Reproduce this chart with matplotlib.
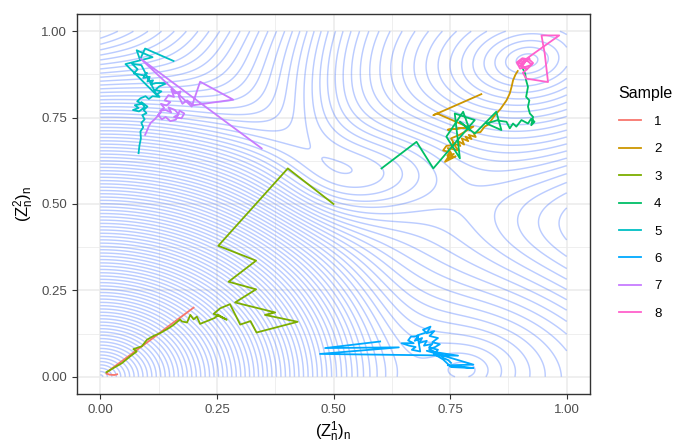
import numpy as np
import matplotlib
matplotlib.use("Agg")
import matplotlib.pyplot as plt

plt.rcParams['font.family'] = ['Liberation Sans', 'DejaVu Sans']
plt.rcParams['mathtext.fontset'] = 'custom'
plt.rcParams['mathtext.rm'] = 'Liberation Sans'
plt.rcParams['mathtext.it'] = 'Liberation Sans:italic'

# ---------------- trajectories ----------------
samples = ['1', '2', '3', '4', '5', '6', '7', '8']
colors = ['#F8766D', '#CD9600', '#7CAE00', '#00BE67', '#00BFC4', '#00A9FF', '#C77CFF', '#FF61CC']

x1 = [0.200, 0.172, 0.143, 0.113, 0.088, 0.062, 0.041, 0.026, 0.016, 0.013, 0.020, 0.030, 0.036]
y1 = [0.200, 0.172, 0.143, 0.112, 0.087, 0.061, 0.040, 0.025, 0.015, 0.009, 0.006, 0.005, 0.007]

x2 = [0.817, 0.714, 0.722, 0.790, 0.745, 0.800, 0.770, 0.752, 0.760, 0.742, 0.735, 0.750, 0.744,
      0.758, 0.748, 0.762, 0.739, 0.752, 0.745, 0.768, 0.756, 0.772, 0.765, 0.780, 0.775, 0.789,
      0.783, 0.796, 0.790, 0.805, 0.800, 0.815, 0.824, 0.832, 0.846, 0.858, 0.871, 0.878, 0.882,
      0.885, 0.890, 0.895]
y2 = [0.818, 0.757, 0.762, 0.722, 0.715, 0.724, 0.700, 0.690, 0.672, 0.668, 0.655, 0.650, 0.640,
      0.645, 0.632, 0.638, 0.622, 0.648, 0.662, 0.655, 0.676, 0.668, 0.684, 0.672, 0.690, 0.682,
      0.695, 0.688, 0.700, 0.694, 0.706, 0.708, 0.724, 0.730, 0.757, 0.775, 0.800, 0.820, 0.840,
      0.858, 0.874, 0.885]

x3 = [0.500, 0.402, 0.253, 0.334, 0.275, 0.334, 0.289, 0.375, 0.353, 0.423, 0.335, 0.322, 0.300,
      0.278, 0.257, 0.243, 0.257, 0.271, 0.253, 0.245, 0.214, 0.207, 0.200, 0.193, 0.186, 0.175,
      0.171, 0.157, 0.146, 0.128, 0.114, 0.100, 0.089, 0.071, 0.078, 0.064, 0.046, 0.028, 0.013]
y3 = [0.500, 0.603, 0.379, 0.336, 0.275, 0.253, 0.215, 0.186, 0.179, 0.159, 0.128, 0.161, 0.151,
      0.210, 0.198, 0.182, 0.174, 0.165, 0.179, 0.170, 0.153, 0.174, 0.166, 0.179, 0.157, 0.160,
      0.166, 0.150, 0.140, 0.126, 0.118, 0.107, 0.088, 0.080, 0.073, 0.059, 0.039, 0.025, 0.013]

x4 = [0.603, 0.678, 0.714, 0.803, 0.760, 0.771, 0.742, 0.778, 0.792, 0.771, 0.803, 0.849, 0.860,
      0.828, 0.850, 0.871, 0.878, 0.885, 0.892, 0.903, 0.917, 0.924, 0.931, 0.924, 0.928, 0.921,
      0.917, 0.920, 0.913, 0.917, 0.913, 0.911, 0.906]
y4 = [0.603, 0.680, 0.603, 0.743, 0.762, 0.632, 0.695, 0.767, 0.714, 0.738, 0.704, 0.767, 0.714,
      0.733, 0.742, 0.738, 0.719, 0.733, 0.724, 0.743, 0.733, 0.747, 0.738, 0.728, 0.752, 0.762,
      0.782, 0.800, 0.810, 0.839, 0.858, 0.877, 0.892]

x5 = [0.157, 0.096, 0.085, 0.078, 0.112, 0.054, 0.121, 0.088, 0.068, 0.080, 0.072, 0.094, 0.100,
      0.092, 0.106, 0.101, 0.113, 0.108, 0.119, 0.143, 0.126, 0.118, 0.131, 0.122, 0.127, 0.112,
      0.104, 0.097, 0.086, 0.079, 0.090, 0.074, 0.082, 0.070, 0.083, 0.095, 0.088, 0.101, 0.093,
      0.099, 0.090, 0.095, 0.088, 0.092, 0.086, 0.087, 0.084, 0.082]
y5 = [0.914, 0.950, 0.918, 0.945, 0.925, 0.905, 0.815, 0.902, 0.906, 0.890, 0.878, 0.872, 0.880,
      0.865, 0.868, 0.855, 0.858, 0.846, 0.850, 0.850, 0.840, 0.830, 0.826, 0.818, 0.810, 0.812,
      0.804, 0.812, 0.806, 0.797, 0.790, 0.786, 0.778, 0.772, 0.768, 0.780, 0.795, 0.782, 0.772,
      0.763, 0.757, 0.745, 0.735, 0.722, 0.710, 0.690, 0.670, 0.647]

x6 = [0.600, 0.482, 0.640, 0.471, 0.767, 0.700, 0.800, 0.745, 0.800, 0.752, 0.735, 0.715, 0.724,
      0.705, 0.712, 0.694, 0.700, 0.684, 0.690, 0.674, 0.682, 0.666, 0.660, 0.672, 0.646, 0.662,
      0.676, 0.668, 0.686, 0.680, 0.699, 0.692, 0.708, 0.700, 0.716, 0.706, 0.724, 0.712, 0.728,
      0.718, 0.705, 0.720, 0.730, 0.736, 0.746, 0.752]
y6 = [0.102, 0.083, 0.085, 0.066, 0.061, 0.075, 0.035, 0.033, 0.025, 0.028, 0.050, 0.066, 0.078,
      0.085, 0.095, 0.090, 0.104, 0.098, 0.112, 0.104, 0.118, 0.116, 0.105, 0.097, 0.097, 0.090,
      0.086, 0.078, 0.073, 0.120, 0.128, 0.136, 0.145, 0.126, 0.132, 0.118, 0.112, 0.100, 0.094,
      0.086, 0.080, 0.070, 0.062, 0.054, 0.048, 0.040]

x7 = [0.346, 0.086, 0.196, 0.214, 0.285, 0.200, 0.186, 0.176, 0.168, 0.172, 0.160, 0.152, 0.158,
      0.146, 0.138, 0.150, 0.142, 0.130, 0.137, 0.128, 0.140, 0.152, 0.146, 0.160, 0.168, 0.158,
      0.174, 0.180, 0.170, 0.162, 0.150, 0.140, 0.132, 0.124, 0.130, 0.120, 0.114, 0.108, 0.104,
      0.100, 0.096]
y7 = [0.661, 0.921, 0.782, 0.854, 0.802, 0.786, 0.800, 0.790, 0.812, 0.826, 0.820, 0.832, 0.810,
      0.815, 0.800, 0.795, 0.785, 0.790, 0.778, 0.770, 0.772, 0.765, 0.780, 0.772, 0.760, 0.752,
      0.748, 0.762, 0.770, 0.744, 0.740, 0.752, 0.745, 0.758, 0.766, 0.750, 0.742, 0.735, 0.725,
      0.712, 0.700]

x8 = [0.905, 0.984, 0.946, 0.953, 0.960, 0.913, 0.906, 0.915, 0.900, 0.910, 0.895, 0.905, 0.918,
      0.925, 0.912, 0.900, 0.893, 0.905, 0.920, 0.928, 0.915, 0.905, 0.912, 0.920]
y8 = [0.912, 0.988, 0.988, 0.935, 0.853, 0.863, 0.880, 0.890, 0.900, 0.910, 0.905, 0.920, 0.912,
      0.903, 0.897, 0.892, 0.910, 0.922, 0.918, 0.908, 0.890, 0.898, 0.915, 0.921]

xs = [x1, x2, x3, x4, x5, x6, x7, x8]
ys = [y1, y2, y3, y4, y5, y6, y7, y8]

# ---------------- background potential (contours) ----------------
# cone basins: origin, top-right, bottom-right
mode_x = [0.00, 0.915, 0.78]
mode_y = [0.00, 0.915, 0.02]
mode_base = [0.0, 5.7, 6.2]
mode_sx = [10.5, 4.8, 4.0]
mode_sy = [10.5, 6.0, 4.8]
mode_rot = [0.0, 0.3, 0.0]
plateau_level = 7.3
# hump beyond the right edge (on the plateau)
hump_x, hump_y, hump_h, hump_w = 1.15, 0.45, 1.6, 0.22
# raised shoulder in the upper left
shoulder_h = 4.5
# small hill in the centre (added on top)
hill_x, hill_y, hill_h, hill_wx, hill_wy, hill_rot = 0.585, 0.59, 0.55, 0.14, 0.09, 0.35

g = np.linspace(0, 1, 401)
X, Y = np.meshgrid(g, g)


def rotated(cx, cy, r):
    dx, dy = X - cx, Y - cy
    u = np.cos(r) * dx + np.sin(r) * dy
    v = -np.sin(r) * dx + np.cos(r) * dy
    return u, v


E = []
for cx, cy, b, sx, sy, r in zip(mode_x, mode_y, mode_base, mode_sx, mode_sy, mode_rot):
    u, v = rotated(cx, cy, r)
    E.append(b + np.sqrt((u * sx) ** 2 + (v * sy) ** 2 + 1e-4))
P = plateau_level + hump_h * np.exp(-0.5 * ((X - hump_x) ** 2 + (Y - hump_y) ** 2) / hump_w ** 2)
P += shoulder_h / (1 + np.exp(-(0.40 - X) / 0.08)) / (1 + np.exp(-(Y - 0.45) / 0.12))
E.append(P)
E = np.array(E)
T = 0.65
U = -T * np.log(np.sum(np.exp(-E / T), axis=0))
hu, hv = rotated(hill_x, hill_y, hill_rot)
U = U + hill_h * np.exp(-0.5 * ((hu / hill_wx) ** 2 + (hv / hill_wy) ** 2))

# ---------------- figure ----------------
fig = plt.figure(figsize=(6.76, 4.43), dpi=100)
ax = fig.add_axes([77 / 676, 49 / 443, 513 / 676, 380 / 443])
ax.set_xlim(-0.05, 1.05)
ax.set_ylim(-0.05, 1.05)

for val in [0.125, 0.375, 0.625, 0.875]:
    ax.axvline(val, color='#EBEBEB', lw=0.55, zorder=0)
    ax.axhline(val, color='#EBEBEB', lw=0.55, zorder=0)
for val in [0, 0.25, 0.5, 0.75, 1.0]:
    ax.axvline(val, color='#EBEBEB', lw=1.1, zorder=0)
    ax.axhline(val, color='#EBEBEB', lw=1.1, zorder=0)

levels = np.arange(U.min() + 0.05, U.max(), 0.1)
ax.contour(X, Y, U, levels=levels, colors='#3366FF', alpha=0.33, linewidths=1.05, zorder=1)

for s, c, xx, yy in zip(samples, colors, xs, ys):
    ax.plot(xx, yy, color=c, lw=1.3, label=s, zorder=3)

ticks = [0, 0.25, 0.5, 0.75, 1.0]
ax.set_xticks(ticks)
ax.set_yticks(ticks)
ax.set_xticklabels(['0.00', '0.25', '0.50', '0.75', '1.00'])
ax.set_yticklabels(['0.00', '0.25', '0.50', '0.75', '1.00'])
ax.tick_params(colors='#333333', labelcolor='#4D4D4D', labelsize=9.5, length=3.5, width=0.8)
for sp in ax.spines.values():
    sp.set_color('#333333')
    sp.set_linewidth(1.0)
ax.set_xlabel(r'$(\mathrm{Z}_\mathrm{n}^\mathrm{1})_\mathrm{n}$', fontsize=12, labelpad=3)
ax.set_ylabel(r'$(\mathrm{Z}_\mathrm{n}^\mathrm{2})_\mathrm{n}$', fontsize=12, labelpad=4)

leg = fig.legend(loc='upper left', bbox_to_anchor=(608 / 676, 1 - 75 / 443), frameon=False,
                 title='Sample', fontsize=9.5, title_fontsize=11.5, handlelength=1.7,
                 handletextpad=1.0, labelspacing=1.15, borderpad=0.3, alignment='left')

fig.savefig('out.png', dpi=100)
